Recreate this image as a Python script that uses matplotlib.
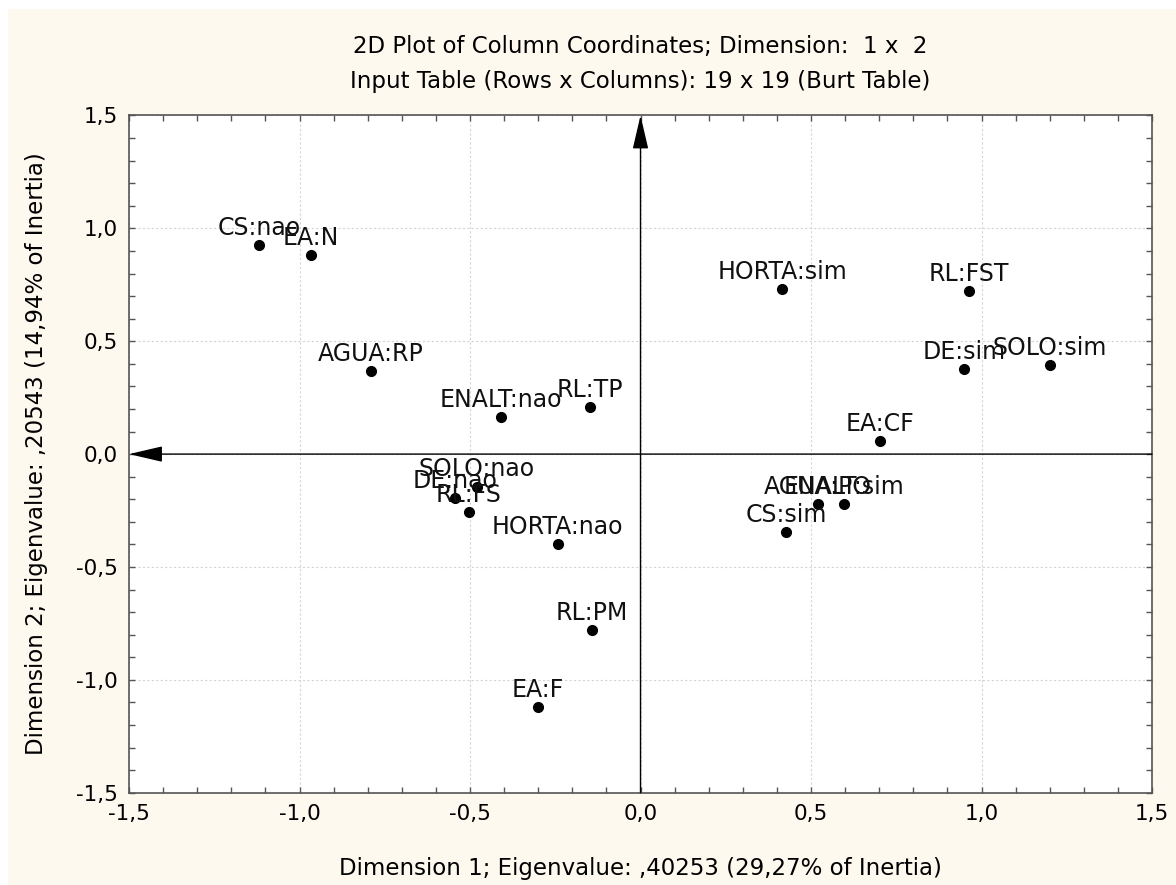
import matplotlib
matplotlib.use("Agg")
import matplotlib.pyplot as plt
from matplotlib.patches import Rectangle
from matplotlib.ticker import MultipleLocator, FuncFormatter

# Coordenadas das colunas
labels = ["CS:nao", "EA:N", "AGUA:RP", "ENALT:nao", "RL:TP", "HORTA:sim",
          "RL:FST", "DE:sim", "SOLO:sim", "EA:CF", "SOLO:nao", "DE:nao",
          "RL:FS", "HORTA:nao", "AGUA:PO", "ENALT:sim", "CS:sim", "RL:PM", "EA:F"]
dim1 = [-1.119, -0.966, -0.790, -0.409, -0.148, 0.415,
        0.963, 0.949, 1.201, 0.702, -0.480, -0.544,
        -0.503, -0.243, 0.520, 0.597, 0.427, -0.142, -0.301]
dim2 = [0.926, 0.882, 0.368, 0.164, 0.208, 0.731,
        0.722, 0.377, 0.394, 0.058, -0.145, -0.195,
        -0.257, -0.399, -0.222, -0.222, -0.346, -0.780, -1.121]

plt.rcParams['font.family'] = ['DejaVu Sans']

fig = plt.figure(figsize=(11.76, 8.85), dpi=100, facecolor='white')
fig.patches.append(Rectangle((8 / 1176, 0), 1, 1 - 9 / 885, transform=fig.transFigure,
                             facecolor='#FEF9EF', edgecolor='none', zorder=-10))
ax = fig.add_axes([0.1097, 0.1043, 0.8699, 0.7652])
ax.set_facecolor('white')

ax.plot(dim1, dim2, 'o', color='black', markersize=7, zorder=5)
for lbl, x, y in zip(labels, dim1, dim2):
    ax.annotate(lbl, (x, y), xytext=(0, 7.5), textcoords='offset points',
                ha='center', va='baseline', fontsize=17, color='#111111', zorder=6)

# Eixos com setas
arrow = dict(arrowstyle='-|>,head_length=1.5,head_width=0.35', color='black',
             lw=1.0, shrinkA=0, shrinkB=0, mutation_scale=14)
ax.annotate('', xy=(-1.5, 0), xytext=(1.5, 0), arrowprops=arrow, zorder=4)
ax.annotate('', xy=(0, 1.5), xytext=(0, -1.5), arrowprops=arrow, zorder=4)

ax.set_xlim(-1.5, 1.5)
ax.set_ylim(-1.5, 1.5)
ax.xaxis.set_major_locator(MultipleLocator(0.5))
ax.yaxis.set_major_locator(MultipleLocator(0.5))
ax.xaxis.set_minor_locator(MultipleLocator(0.1))
ax.yaxis.set_minor_locator(MultipleLocator(0.1))
fmt = FuncFormatter(lambda v, p: f"{v:.1f}".replace('.', ',').replace('-0,0', '0,0'))
ax.xaxis.set_major_formatter(fmt)
ax.yaxis.set_major_formatter(fmt)
ax.tick_params(which='both', direction='in', top=True, right=True, length=4,
               width=1, color='#555555', labelsize=15.5, pad=8)
ax.grid(True, which='major', color='#d4d4d4', linestyle=(0, (2, 2)), lw=0.8)
for s in ax.spines.values():
    s.set_color('#555555')
    s.set_linewidth(1.2)

ax.set_title("2D Plot of Column Coordinates; Dimension:  1 x  2\n"
             "Input Table (Rows x Columns): 19 x 19 (Burt Table)",
             fontsize=16.5, linespacing=1.65, pad=20)
ax.set_xlabel("Dimension 1; Eigenvalue: ,40253 (29,27% of Inertia)", fontsize=16.5, labelpad=24)
ax.set_ylabel("Dimension 2; Eigenvalue: ,20543 (14,94% of Inertia)", fontsize=16.5, labelpad=20)

fig.savefig('out.png', dpi=100, facecolor=fig.get_facecolor())
